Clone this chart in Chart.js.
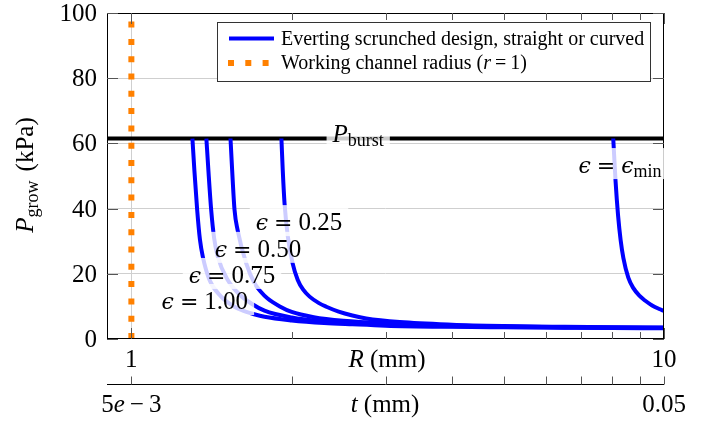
<!DOCTYPE html>
<html>
<head>
<meta charset="utf-8">
<script src="https://cdn.jsdelivr.net/npm/chart.js@4.4.0/dist/chart.umd.min.js"></script>
<style>
  html, body { margin: 0; padding: 0; background: #fff; }
  #wrap { width: 710px; height: 421px; }
</style>
</head>
<body>
<div id="wrap"><canvas id="growChart" width="710" height="421"></canvas></div>
<script>
// growth pressure curves (R in mm, P in kPa)
var R_eps100 = [1.302, 1.313, 1.329, 1.345, 1.362, 1.402, 1.474, 1.55, 1.608, 1.70, 1.778, 2.0, 2.3, 2.6, 3.0, 4.0, 5.0, 6.5, 8.0, 10];
var P_eps100 = [61.5, 51.8, 39.6, 30.5, 25.2, 18.1, 13.0, 10.2, 8.9, 7.6, 6.8, 5.7, 4.9, 4.5, 4.1, 3.75, 3.6, 3.45, 3.35, 3.3];

var R_eps075 = [1.383, 1.395, 1.412, 1.43, 1.453, 1.517, 1.60, 1.679, 1.778, 2.0, 2.3, 2.6, 3.0, 4.0, 5.0, 6.5, 8.0, 10];
var P_eps075 = [61.5, 51.8, 39.6, 31.0, 25.2, 18.1, 13.5, 10.9, 8.7, 6.6, 5.4, 4.8, 4.4, 3.9, 3.7, 3.55, 3.45, 3.4];

var R_eps050 = [1.535, 1.546, 1.562, 1.583, 1.643, 1.703, 1.75, 1.80, 1.9, 2.0, 2.2, 2.5, 3.0, 4.0, 5.0, 6.5, 8.0, 10];
var P_eps050 = [61.5, 51.8, 39.6, 33.4, 23.2, 17.1, 14.5, 12.5, 10.0, 8.3, 6.7, 5.6, 4.8, 4.1, 3.8, 3.6, 3.5, 3.45];

var R_eps025 = [1.913, 1.924, 1.939, 1.967, 2.008, 2.053, 2.10, 2.161, 2.25, 2.323, 2.45, 2.6, 2.76, 3.19, 4.0, 5.0, 6.5, 8.0, 10];
var P_eps025 = [61.5, 51.8, 41.6, 31.4, 23.2, 18.1, 15.2, 13.0, 11.0, 9.9, 8.4, 7.2, 6.3, 5.2, 4.4, 4.0, 3.75, 3.6, 3.5];

var R_epsMin = [8.03, 8.11, 8.2, 8.29, 8.39, 8.57, 8.76, 9.0, 9.21, 9.5, 9.8, 10];
var P_epsMin = [61.5, 48.5, 37.8, 30.4, 24.8, 18.8, 15.6, 13.2, 11.8, 10.3, 9.2, 8.6];

var P_burst = 61.5;       // burst pressure line
var R_channel = 1;        // working channel radius
var R_range = [0.9, 10];
var P_range = [0, 100];

// tick labels
var yTicks = [0, 20, 40, 60, 80, 100];
var xTicks = [1, 2, 3, 4, 5, 6, 7, 8, 9, 10];
var xTickLabels = { 1: '1', 10: '10' };
var tTickLabels = { 1: '5e − 3', 10: '0.05' };

// curve label anchors (R, P) and text
var epsNames = ['0.25', '0.50', '0.75', '1.00'];
var epsLabelR = [2.064, 1.729, 1.545, 1.374];
var epsLabelP = [33.4, 25.2, 17.2, 9.2];

var SERIF = '"Liberation Serif", "Times New Roman", serif';
function fnt(size, style) { return (style ? style + ' ' : '') + size + 'px ' + SERIF; }
var EPS_FONT = 'italic 22px "DejaVu Serif"';
var EQ_FONT = '22px "DejaVu Serif"';

function pts(rs, ps) {
  return rs.map(function (r, i) { return { x: r, y: ps[i] }; });
}

// runs: [text, font, dy, gapAfter]
function runsWidth(ctx, runs) {
  var w = 0;
  runs.forEach(function (r) { ctx.font = r[1]; w += ctx.measureText(r[0]).width + (r[3] || 0); });
  return w;
}
function drawRuns(ctx, runs, x, y, align) {
  var w = runsWidth(ctx, runs);
  var cx = align === 'center' ? x - w / 2 : (align === 'right' ? x - w : x);
  runs.forEach(function (r) {
    ctx.font = r[1];
    ctx.fillText(r[0], cx, y + (r[2] || 0));
    cx += ctx.measureText(r[0]).width + (r[3] || 0);
  });
  return w;
}
function boxedRuns(ctx, runs, x, y, align) {
  var w = runsWidth(ctx, runs);
  var left = align === 'center' ? x - w / 2 : x;
  ctx.fillStyle = 'rgba(255,255,255,0.8)';
  ctx.fillRect(left - 6, y - 25, w + 12, 31);
  ctx.fillStyle = '#000';
  drawRuns(ctx, runs, left, y, 'left');
}
function epsRuns(num) {
  return [['ϵ', EPS_FONT, 0, 6], ['=', EQ_FONT, 0, 6], [num, fnt(25)]];
}

var axesPlugin = {
  id: 'axesPlugin',
  afterDatasetsDraw: function (chart) {
    var ctx = chart.ctx, a = chart.chartArea;
    var xs = chart.scales.x, ys = chart.scales.y;
    ctx.save();
    ctx.textBaseline = 'alphabetic';

    // frame
    ctx.strokeStyle = '#000';
    ctx.lineWidth = 1;
    ctx.strokeRect(a.left + 0.5, a.top + 0.5, a.right - a.left - 1, a.bottom - a.top - 1);

    // ticks, pointing inward
    ctx.strokeStyle = '#555';
    ctx.beginPath();
    xTicks.forEach(function (v) {
      var px = Math.round(xs.getPixelForValue(v)) + 0.5;
      var len = xTickLabels[v] ? 11 : 7;
      ctx.moveTo(px, a.bottom); ctx.lineTo(px, a.bottom - len);
      ctx.moveTo(px, a.top); ctx.lineTo(px, a.top + len);
    });
    yTicks.forEach(function (v) {
      var py = Math.round(ys.getPixelForValue(v)) + 0.5;
      ctx.moveTo(a.left, py); ctx.lineTo(a.left + 11, py);
      ctx.moveTo(a.right, py); ctx.lineTo(a.right - 11, py);
    });
    ctx.stroke();

    // second axis for wall thickness t
    var tY = a.bottom + 45.5;
    ctx.strokeStyle = '#000';
    ctx.beginPath();
    ctx.moveTo(a.left, tY); ctx.lineTo(a.right, tY);
    ctx.stroke();
    ctx.strokeStyle = '#555';
    ctx.beginPath();
    xTicks.forEach(function (v) {
      var px = Math.round(xs.getPixelForValue(v)) + 0.5;
      ctx.moveTo(px, tY); ctx.lineTo(px, tY - 8);
    });
    ctx.stroke();

    // curve labels
    ctx.fillStyle = '#000';
    epsNames.forEach(function (n, i) {
      boxedRuns(ctx, epsRuns(n), xs.getPixelForValue(epsLabelR[i]), ys.getPixelForValue(epsLabelP[i]), 'center');
    });
    boxedRuns(ctx, [['ϵ', EPS_FONT, 0, 6], ['=', EQ_FONT, 0, 6], ['ϵ', EPS_FONT, 0, 0], ['min', fnt(18), 4]],
      xs.getPixelForValue(8.27), ys.getPixelForValue(50.9), 'center');
    boxedRuns(ctx, [['P', fnt(25, 'italic')], ['burst', fnt(18), 4]],
      xs.getPixelForValue(2.666), ys.getPixelForValue(60.4), 'center');

    // tick labels
    ctx.fillStyle = '#000';
    ctx.textAlign = 'left';
    yTicks.forEach(function (v) {
      drawRuns(ctx, [[String(v), fnt(25)]], a.left - 10, ys.getPixelForValue(v) + 8, 'right');
    });
    Object.keys(xTickLabels).forEach(function (k) {
      var px = xs.getPixelForValue(+k);
      drawRuns(ctx, [[xTickLabels[k], fnt(25)]], px, a.bottom + 28, 'center');
    });
    var tl = xs.getPixelForValue(1);
    drawRuns(ctx, [['5', fnt(25)], ['e', fnt(25, 'italic'), 0, 5], ['−', fnt(25), 0, 5], ['3', fnt(25)]], tl, a.bottom + 73, 'center');
    drawRuns(ctx, [[tTickLabels[10], fnt(25)]], xs.getPixelForValue(10), a.bottom + 73, 'center');

    // axis titles
    drawRuns(ctx, [['R', fnt(25, 'italic')], [' (mm)', fnt(25)]], 387, a.bottom + 28, 'center');
    drawRuns(ctx, [['t', fnt(25, 'italic')], [' (mm)', fnt(25)]], 385, a.bottom + 73, 'center');

    ctx.save();
    ctx.translate(33, 175);
    ctx.rotate(-Math.PI / 2);
    drawRuns(ctx, [['P', fnt(25, 'italic')], ['grow', fnt(18), 5, 9], ['(kPa)', fnt(25)]], 0, 0, 'center');
    ctx.restore();

    // legend
    var lx = 217, ly = 22, lw = 433, lh = 59;
    ctx.fillStyle = '#fff';
    ctx.fillRect(lx, ly, lw, lh);
    ctx.strokeStyle = '#333';
    ctx.strokeRect(lx + 0.5, ly + 0.5, lw, lh);
    ctx.lineCap = 'butt';
    ctx.strokeStyle = '#0000ff';
    ctx.lineWidth = 4;
    ctx.beginPath(); ctx.moveTo(229, 38.5); ctx.lineTo(274, 38.5); ctx.stroke();
    ctx.strokeStyle = '#ff8000';
    ctx.lineWidth = 6;
    ctx.setLineDash([6, 11.3]);
    ctx.beginPath(); ctx.moveTo(228, 63); ctx.lineTo(274, 63); ctx.stroke();
    ctx.setLineDash([]);
    ctx.fillStyle = '#000';
    drawRuns(ctx, [['Everting scrunched design, straight or curved', fnt(20)]], 281, 45, 'left');
    drawRuns(ctx, [['Working channel radius (', fnt(20)], ['r', fnt(20, 'italic'), 0, 4], ['=', fnt(20), 0, 4], ['1)', fnt(20)]], 281, 69, 'left');

    ctx.restore();
  }
};

var blue = '#0000ff';
function curve(rs, ps) {
  return {
    data: pts(rs, ps),
    borderColor: blue,
    borderWidth: 4,
    cubicInterpolationMode: 'monotone',
    order: 2
  };
}

var ctx = document.getElementById('growChart');
var growChart = new Chart(ctx, {
  type: 'scatter',
  data: {
    datasets: [
      {
        data: [{ x: R_range[0], y: P_burst }, { x: R_range[1], y: P_burst }],
        borderColor: '#000', borderWidth: 4, order: 3
      },
      curve(R_eps100, P_eps100),
      curve(R_eps075, P_eps075),
      curve(R_eps050, P_eps050),
      curve(R_eps025, P_eps025),
      curve(R_epsMin, P_epsMin),
      {
        data: [{ x: R_channel, y: P_range[0] }, { x: R_channel, y: P_range[1] }],
        borderColor: '#ff8000', borderWidth: 6, borderDash: [6, 11.3], borderCapStyle: 'butt', order: 1
      }
    ]
  },
  options: {
    responsive: false,
    animation: false,
    devicePixelRatio: 1,
    showLine: true,
    elements: { point: { radius: 0, hoverRadius: 0 }, line: { fill: false } },
    layout: { padding: { left: 107, right: 46, top: 13, bottom: 82 } },
    plugins: { legend: { display: false }, tooltip: { enabled: false } },
    scales: {
      x: {
        type: 'logarithmic',
        min: R_range[0], max: R_range[1],
        afterBuildTicks: function (s) { s.ticks = xTicks.map(function (v) { return { value: v }; }); },
        afterFit: function (s) { s.height = 0; },
        ticks: { display: false },
        border: { display: false },
        grid: {
          drawTicks: false,
          color: function (c) { return c.tick && c.tick.value === 1 ? '#cfcfcf' : 'rgba(0,0,0,0)'; }
        }
      },
      y: {
        min: P_range[0], max: P_range[1],
        afterBuildTicks: function (s) { s.ticks = yTicks.map(function (v) { return { value: v }; }); },
        afterFit: function (s) { s.width = 0; },
        ticks: { display: false },
        border: { display: false },
        grid: {
          drawTicks: false,
          color: function (c) { return c.tick && c.tick.value > 0 && c.tick.value < 100 ? '#cfcfcf' : 'rgba(0,0,0,0)'; }
        }
      }
    }
  },
  plugins: [axesPlugin]
});
</script>
</body>
</html>
